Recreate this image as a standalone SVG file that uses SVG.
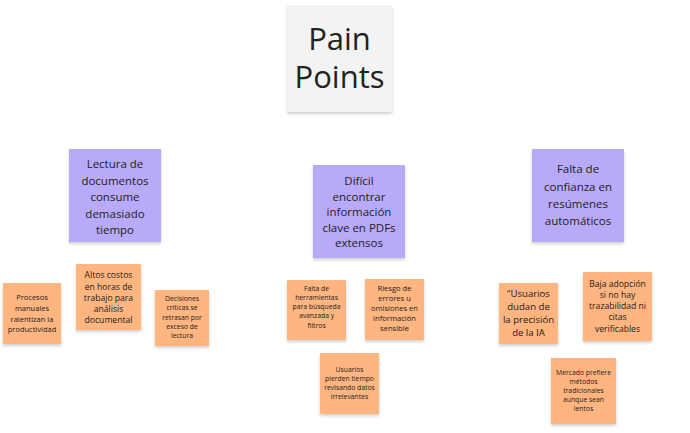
<svg xmlns="http://www.w3.org/2000/svg" width="690" height="433" viewBox="0 0 690 433">
<defs>
<filter id="sh" x="-20%" y="-20%" width="140%" height="150%">
<feDropShadow dx="0" dy="2" stdDeviation="1.5" flood-color="#000" flood-opacity="0.18"/>
</filter>
<style>
.t{font-family:"Open Sans","Noto Sans","Liberation Sans",sans-serif;fill:#222;text-anchor:middle}
.title{fill:#f3f3f3}
.p{fill:#b8aaf8}
.o{fill:#feb57f}
</style>
</defs>
<rect width="690" height="433" fill="#ffffff"/>
<g id="connectors"/>
<g id="title" filter="url(#sh)">
<rect class="title" x="287" y="5" width="105" height="107"/>
</g>
<g class="t" font-size="31">
<text x="339.5" y="50">Pain</text>
<text x="339.5" y="88">Points</text>
</g>
<g id="p1">
<rect class="p" x="69" y="149" width="92" height="93" filter="url(#sh)"/>
<g class="t" font-size="11.5">
<text x="115" y="168">Lectura de</text>
<text x="115" y="185">documentos</text>
<text x="115" y="201">consume</text>
<text x="115" y="218">demasiado</text>
<text x="115" y="234">tiempo</text>
</g>
</g>
<g id="p2">
<rect class="p" x="313" y="165" width="92" height="93" filter="url(#sh)"/>
<g class="t" font-size="11.5">
<text x="359" y="185">Difícil</text>
<text x="359" y="201">encontrar</text>
<text x="359" y="216">información</text>
<text x="359" y="232">clave en PDFs</text>
<text x="359" y="247">extensos</text>
</g>
</g>
<g id="p3">
<rect class="p" x="532" y="149" width="92" height="93" filter="url(#sh)"/>
<g class="t" font-size="11.5">
<text x="578" y="173">Falta de</text>
<text x="578" y="191">confianza en</text>
<text x="578" y="208">resúmenes</text>
<text x="578" y="225">automáticos</text>
</g>
</g>
<g id="o1">
<rect class="o" x="3" y="283" width="58" height="61" filter="url(#sh)"/>
<g class="t" font-size="7.5">
<text x="32" y="300">Procesos</text>
<text x="32" y="311">manuales</text>
<text x="32" y="322">ralentizan la</text>
<text x="32" y="332">productividad</text>
</g>
</g>
<g id="o2">
<rect class="o" x="76" y="264" width="65" height="66" filter="url(#sh)"/>
<g class="t" font-size="8.6">
<text x="108.5" y="278">Altos costos</text>
<text x="108.5" y="290">en horas de</text>
<text x="108.5" y="301">trabajo para</text>
<text x="108.5" y="312">análisis</text>
<text x="108.5" y="323">documental</text>
</g>
</g>
<g id="o3">
<rect class="o" x="155" y="290" width="54" height="56" filter="url(#sh)"/>
<g class="t" font-size="6.8">
<text x="182" y="301">Decisiones</text>
<text x="182" y="310">críticas se</text>
<text x="182" y="320">retrasan por</text>
<text x="182" y="329">exceso de</text>
<text x="182" y="338">lectura</text>
</g>
</g>
<g id="o4">
<rect class="o" x="287" y="280" width="59" height="60" filter="url(#sh)"/>
<g class="t" font-size="6.8">
<text x="316.5" y="291">Falta de</text>
<text x="316.5" y="300">herramientas</text>
<text x="316.5" y="309">para búsqueda</text>
<text x="316.5" y="318">avanzada y</text>
<text x="316.5" y="328">filtros</text>
</g>
</g>
<g id="o5">
<rect class="o" x="365" y="279" width="59" height="61" filter="url(#sh)"/>
<g class="t" font-size="7.6">
<text x="394.5" y="291">Riesgo de</text>
<text x="394.5" y="301">errores u</text>
<text x="394.5" y="311">omisiones en</text>
<text x="394.5" y="321">información</text>
<text x="394.5" y="331">sensible</text>
</g>
</g>
<g id="o6">
<rect class="o" x="320" y="353" width="59" height="61" filter="url(#sh)"/>
<g class="t" font-size="6.8">
<text x="349.5" y="372">Usuarios</text>
<text x="349.5" y="381">pierden tiempo</text>
<text x="349.5" y="390">revisando datos</text>
<text x="349.5" y="399">irrelevantes</text>
</g>
</g>
<g id="o7">
<rect class="o" x="499" y="283" width="59" height="61" filter="url(#sh)"/>
<g class="t" font-size="9.6">
<text x="528.5" y="297">“Usuarios</text>
<text x="528.5" y="310">dudan de</text>
<text x="528.5" y="323">la precisión</text>
<text x="528.5" y="336">de la IA</text>
</g>
</g>
<g id="o8">
<rect class="o" x="583" y="272" width="69" height="69" filter="url(#sh)"/>
<g class="t" font-size="8.6">
<text x="617.5" y="287">Baja adopción</text>
<text x="617.5" y="298">si no hay</text>
<text x="617.5" y="309">trazabilidad ni</text>
<text x="617.5" y="320">citas</text>
<text x="617.5" y="332">verificables</text>
</g>
</g>
<g id="o9">
<rect class="o" x="551" y="358" width="65" height="66" filter="url(#sh)"/>
<g class="t" font-size="6.8">
<text x="583.5" y="375">Mercado prefiere</text>
<text x="583.5" y="384">métodos</text>
<text x="583.5" y="393">tradicionales</text>
<text x="583.5" y="402">aunque sean</text>
<text x="583.5" y="411">lentos</text>
</g>
</g>
</svg>
